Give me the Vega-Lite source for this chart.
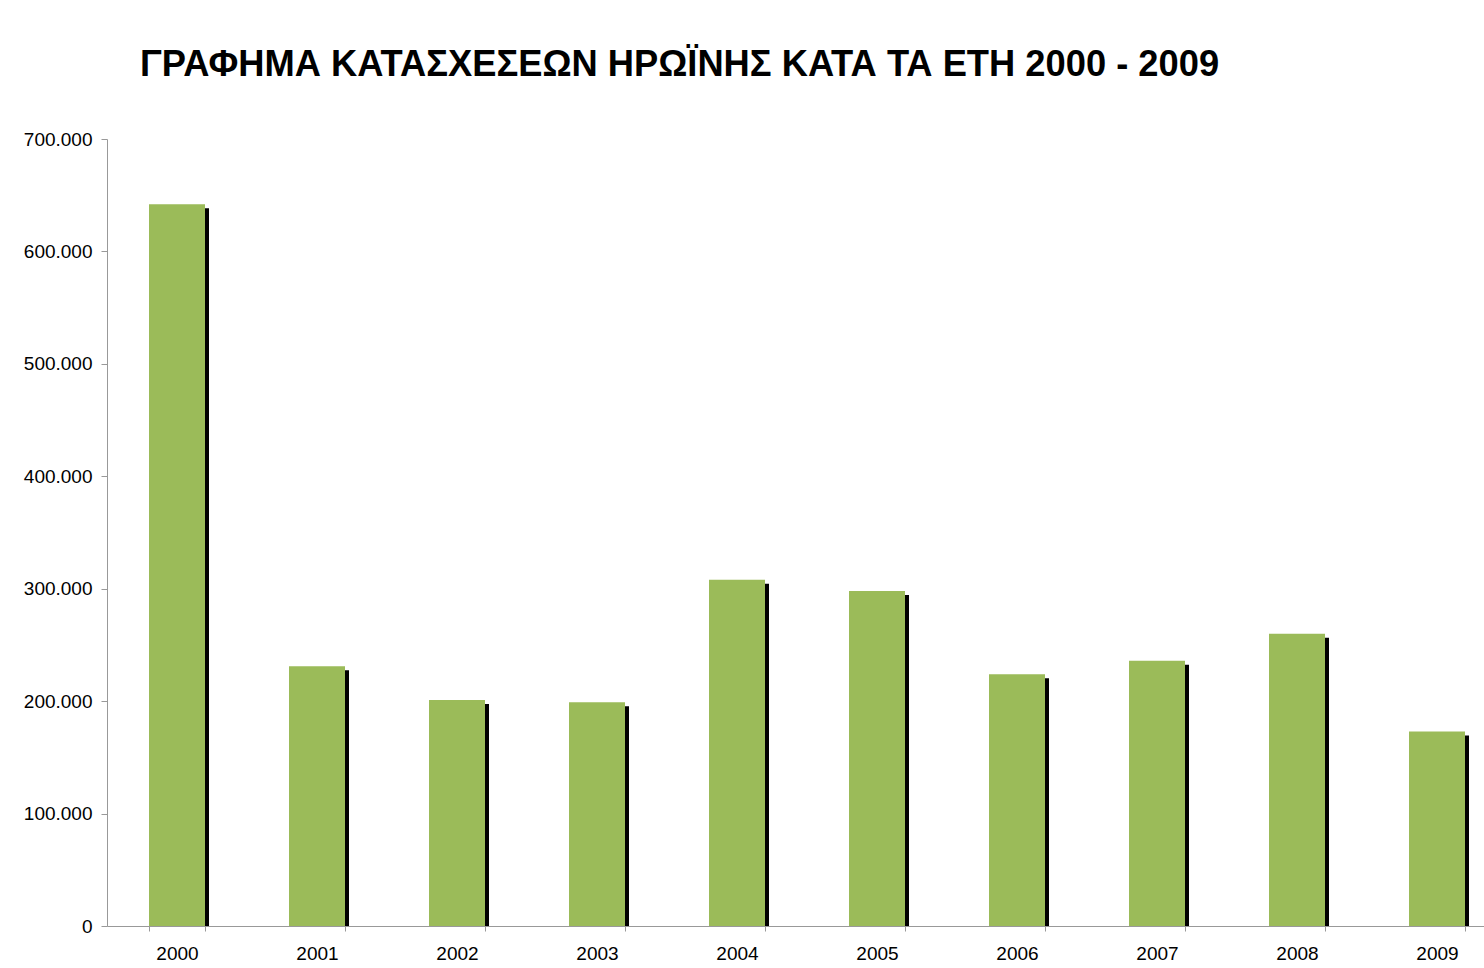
{
  "$schema": "https://vega.github.io/schema/vega-lite/v6.json",
  "width": 1377,
  "height": 787,
  "autosize": {"type": "none"},
  "padding": {"left": 107, "top": 139, "right": 0, "bottom": 42},
  "background": "white",
  "title": {
    "text": "ΓΡΑΦΗΜΑ ΚΑΤΑΣΧΕΣΕΩΝ ΗΡΩΪΝΗΣ ΚΑΤΑ ΤΑ ΕΤΗ 2000 - 2009",
    "anchor": "start",
    "frame": "group",
    "dx": 33,
    "fontSize": 36.3,
    "font": "Liberation Sans",
    "fontWeight": "bold",
    "color": "black",
    "offset": 18,
    "baseline": "alphabetic"
  },
  "config": {
    "view": {"stroke": null},
    "font": "Liberation Sans"
  },
  "data": {
    "values": [
      {"year": "2000", "seizures": 642000},
      {"year": "2001", "seizures": 231000},
      {"year": "2002", "seizures": 201000},
      {"year": "2003", "seizures": 199000},
      {"year": "2004", "seizures": 308000},
      {"year": "2005", "seizures": 298000},
      {"year": "2006", "seizures": 224000},
      {"year": "2007", "seizures": 236000},
      {"year": "2008", "seizures": 260000},
      {"year": "2009", "seizures": 173000}
    ]
  },
  "encoding": {
    "x": {
      "field": "year",
      "type": "ordinal",
      "scale": {"range": [0, 1400], "paddingInner": 0.6, "paddingOuter": 0.3},
      "axis": {
        "title": null,
        "labelAngle": 0,
        "labelFontSize": 19,
        "labelColor": "black",
        "labelPadding": 13,
        "domainColor": "#999999",
        "tickColor": "#999999",
        "tickSize": 5,
        "tickBand": "extent",
        "grid": false
      }
    },
    "y": {
      "field": "seizures",
      "type": "quantitative",
      "scale": {"domain": [0, 700000], "nice": false},
      "axis": {
        "title": null,
        "values": [0, 100000, 200000, 300000, 400000, 500000, 600000, 700000],
        "labelExpr": "replace(format(datum.value, ',d'), ',', '.')",
        "labelFontSize": 19,
        "labelColor": "black",
        "labelPadding": 9,
        "domainColor": "#999999",
        "tickColor": "#999999",
        "tickSize": 6,
        "grid": false
      }
    }
  },
  "layer": [
    {"mark": {"type": "bar", "color": "black", "xOffset": 4, "yOffset": 4, "clip": true}},
    {"mark": {"type": "bar", "color": "#9BBB59"}}
  ]
}
